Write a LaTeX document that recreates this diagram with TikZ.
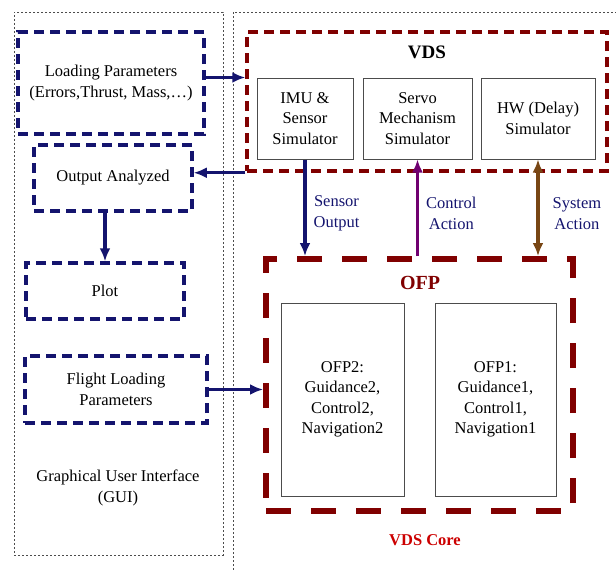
\documentclass[tikz,border=0pt]{standalone}
\usepackage{fontspec}
\setmainfont{Liberation Serif}
\usepackage{tikz}
\usetikzlibrary{positioning,arrows.meta}

\definecolor{guinavy}{RGB}{20,20,110}
\definecolor{vdsred}{RGB}{128,0,0}
\definecolor{ctrlpurple}{RGB}{112,0,112}
\definecolor{sysbrown}{RGB}{120,70,20}
\definecolor{corered}{RGB}{204,0,0}

\begin{document}
\begin{tikzpicture}[
        x=1pt, y=-1pt,
        every node/.style={font=\fontsize{16.5}{20.5}\selectfont, align=center, inner sep=0pt},
        guibox/.style={draw=guinavy, line width=3.5pt, dash pattern=on 10pt off 6pt},
        simbox/.style={draw=black!70, line width=1pt},
        zone/.style={draw=black!70, line width=0.8pt, dash pattern=on 2pt off 2pt},
        arr/.style={line width=3.2pt, -{Latex[length=13pt,width=11pt]}},
        flowlabel/.style={text=guinavy, right=7pt}
    ]
        \useasboundingbox (0,0) rectangle (616,570);

        % GUI side
        \node[zone, minimum width=209pt, minimum height=543pt](gui) at (118.5,283.5){};
        \node(guitxt) at (118,488){Graphical User Interface\\(GUI)};
        \node[guibox, minimum width=186pt, minimum height=102pt](load) at (111,83){Loading Parameters\\(Errors,Thrust, Mass,\dots)};
        \node[guibox, minimum width=158pt, minimum height=66pt](outan) at (113,178){Output Analyzed};
        \node[guibox, minimum width=158pt, minimum height=56pt](plot) at (105,291){Plot};
        \node[guibox, minimum width=182pt, minimum height=67pt](flight) at (116,389.5){Flight Loading\\Parameters};

        % core side
        \coordinate(corebl) at (233,570);
        \coordinate(coretl) at (233,12);
        \coordinate(coretr) at (616,12);
        \draw[zone] (corebl) -- (coretl) -- (coretr);

        \node[draw=vdsred, line width=3.5pt, dash pattern=on 10pt off 6pt, minimum width=360pt, minimum height=139pt](vds) at (427,101.5){};
        \node[font=\fontsize{19}{22}\selectfont\bfseries](vdstitle) at (427,52){VDS};
        \node[simbox, minimum width=96pt, minimum height=81pt](imu) at (305,118.5){IMU \&\\Sensor\\Simulator};
        \node[simbox, minimum width=109pt, minimum height=81pt](servo) at (417.5,118.5){Servo\\Mechanism\\Simulator};
        \node[simbox, minimum width=114pt, minimum height=81pt](hw) at (538,118.5){HW (Delay)\\Simulator};

        \node[draw=vdsred, line width=6pt, dash pattern=on 25pt off 20pt, minimum width=307pt, minimum height=252pt](ofp) at (419.5,385){};
        \node[font=\fontsize{20}{24}\selectfont\bfseries, text=vdsred](ofptitle) at (420,283){OFP};
        \node[simbox, minimum width=123pt, minimum height=193pt](ofp2) at (342.5,399.5){OFP2:\\Guidance2,\\Control2,\\Navigation2};
        \node[simbox, minimum width=121pt, minimum height=193pt](ofp1) at (495.5,399.5){OFP1:\\Guidance1,\\Control1,\\Navigation1};
        \node[font=\fontsize{16.5}{20}\selectfont\bfseries, text=corered](coretxt) at (425,540){VDS Core};

        % connectors
        \draw[arr, guinavy] (load.east |- imu.north) -- (vds.west |- imu.north);
        \draw[arr, guinavy] (vds.south west) -- (outan.east |- vds.south);
        \draw[arr, guinavy] (plot.north |- outan.south) -- (plot.north);
        \draw[arr, guinavy] (flight.east) -- (ofp.west |- flight.east);
        \draw[arr, guinavy] (imu.south) -- node[flowlabel, pos=0.56]{Sensor\\Output} (imu.south |- ofp.north);
        \draw[arr, ctrlpurple] (servo.south |- ofp.north) -- node[flowlabel, pos=0.44]{Control\\Action} (servo.south);
        \draw[arr, sysbrown, {Latex[length=13pt,width=11pt]}-{Latex[length=13pt,width=11pt]}] (hw.south) -- node[flowlabel, pos=0.56, right=13pt]{System\\Action} (hw.south |- ofp.north);
    \end{tikzpicture}
\end{document}
